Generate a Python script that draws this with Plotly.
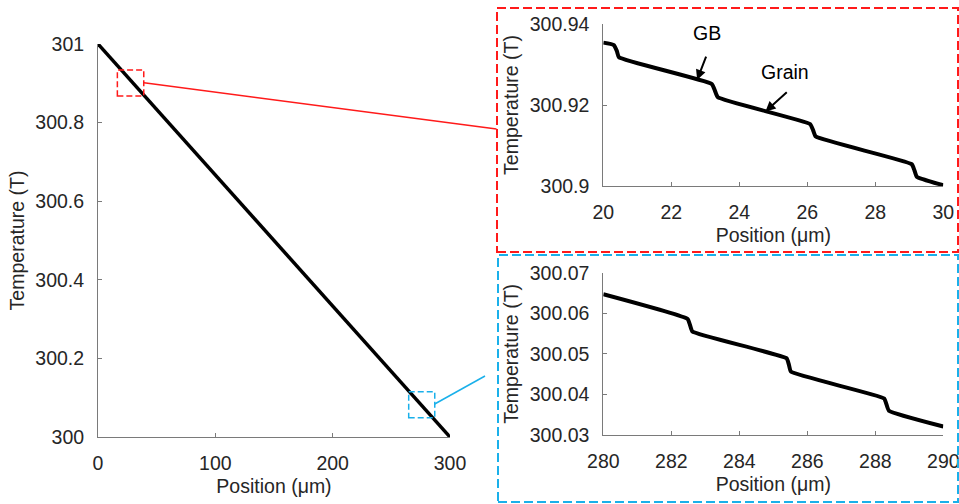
import plotly.graph_objects as go

# ---- data ----
main_x = [0, 300]
main_y = [301.0, 300.0]

zoom1_x = [20.0, 20.31, 20.40, 20.46, 23.19, 23.28, 23.37, 26.08, 26.17, 26.25, 29.07, 29.15, 29.22, 30.0]
zoom1_y = [300.9354, 300.9348, 300.9333, 300.9318, 300.9252, 300.9236, 300.9219, 300.9153, 300.9138, 300.9122,
           300.9054, 300.9039, 300.9023, 300.9002]

zoom2_x = [280.0, 282.48, 282.55, 282.62, 285.39, 285.46, 285.52, 288.26, 288.33, 288.40, 290.0]
zoom2_y = [300.0647, 300.0586, 300.0571, 300.0555, 300.0489, 300.0473, 300.0456, 300.0390, 300.0375, 300.0360,
           300.0321]

main_xticks = [0, 100, 200, 300]
main_yticks = [300.0, 300.2, 300.4, 300.6, 300.8, 301.0]
main_yticklabels = ["300", "300.2", "300.4", "300.6", "300.8", "301"]
z1_xticks = [20, 22, 24, 26, 28, 30]
z1_yticks = [300.90, 300.92, 300.94]
z1_yticklabels = ["300.9", "300.92", "300.94"]
z2_xticks = [280, 282, 284, 286, 288, 290]
z2_yticks = [300.03, 300.04, 300.05, 300.06, 300.07]
z2_yticklabels = ["300.03", "300.04", "300.05", "300.06", "300.07"]

W, H = 959, 504
def px(x):
    return x / W
def py(y):
    return 1 - y / H

FONT = "Arial, Liberation Sans, sans-serif"
TXT = "#262626"
AX = "#7a7a7a"
FS = 19.5

fig = go.Figure()
fig.add_trace(go.Scatter(x=main_x, y=main_y, mode="lines", line=dict(color="black", width=3.5),
                         cliponaxis=False, xaxis="x", yaxis="y", showlegend=False, hoverinfo="skip"))
fig.add_trace(go.Scatter(x=zoom1_x, y=zoom1_y, mode="lines", line=dict(color="black", width=4, shape="spline", smoothing=0.4),
                         cliponaxis=False, xaxis="x2", yaxis="y2", showlegend=False, hoverinfo="skip"))
fig.add_trace(go.Scatter(x=zoom2_x, y=zoom2_y, mode="lines", line=dict(color="black", width=4, shape="spline", smoothing=0.4),
                         cliponaxis=False, xaxis="x3", yaxis="y3", showlegend=False, hoverinfo="skip"))

def xa(domain, rng, ticks, title, anchor):
    return dict(domain=domain, range=rng, tickvals=ticks, anchor=anchor, automargin=False,
                showline=True, linecolor=AX, linewidth=1, ticks="inside", ticklen=4, tickcolor=AX,
                showgrid=False, zeroline=False, ticklabelstandoff=9, ticklabeloverflow="allow",
                tickfont=dict(family=FONT, size=FS, color=TXT),
                title=dict(text=title, font=dict(family=FONT, size=FS, color=TXT), standoff=5))

def ya(domain, rng, ticks, labels, title, anchor):
    return dict(domain=domain, range=rng, tickvals=ticks, ticktext=labels, anchor=anchor, automargin=False,
                showline=True, linecolor=AX, linewidth=1, ticks="inside", ticklen=4, tickcolor=AX,
                showgrid=False, zeroline=False, ticklabelstandoff=9, ticklabeloverflow="allow",
                tickfont=dict(family=FONT, size=FS, color=TXT),
                title=dict(text=title, font=dict(family=FONT, size=FS, color=TXT), standoff=5))

fig.update_layout(
    width=W, height=H, margin=dict(l=0, r=0, t=0, b=0, autoexpand=False),
    paper_bgcolor="white", plot_bgcolor="white",
    xaxis=xa([px(98), px(450)], [0, 300], main_xticks, "Position (μm)", "y"),
    yaxis=ya([py(437), py(44)], [300, 301], main_yticks, main_yticklabels, "Temperature (T)", "x"),
    xaxis2=xa([px(603.3), px(943.3)], [20, 30], z1_xticks, "Position (μm)", "y2"),
    yaxis2=ya([py(186), py(24)], [300.9, 300.94], z1_yticks, z1_yticklabels, "Temperature (T)", "x2"),
    xaxis3=xa([px(603.3), px(943.3)], [280, 290], z2_xticks, "Position (μm)", "y3"),
    yaxis3=ya([py(435), py(272.7)], [300.03, 300.07], z2_yticks, z2_yticklabels, "Temperature (T)", "x3"),
)

RED = "#ff1a1a"
BLUE = "#1ab0ea"
shapes = [
    # small zoom boxes on main plot
    dict(type="rect", xref="x", yref="y", x0=16.5, x1=39.0, y0=300.868, y1=300.934,
         line=dict(color=RED, width=1.5, dash="6px,3px")),
    dict(type="rect", xref="x", yref="y", x0=264.8, x1=287.0, y0=300.049, y1=300.115,
         line=dict(color=BLUE, width=1.5, dash="6px,3px")),
    # connectors
    dict(type="line", xref="paper", yref="paper", x0=px(144), y0=py(82.7), x1=px(496.5), y1=py(129),
         line=dict(color=RED, width=1.5)),
    dict(type="line", xref="paper", yref="paper", x0=px(434.7), y0=py(404), x1=px(485), y1=py(376),
         line=dict(color=BLUE, width=1.5)),
    # inset frames
    dict(type="rect", xref="paper", yref="paper", x0=px(497), x1=px(958), y0=py(252), y1=py(8),
         line=dict(color=RED, width=2, dash="9px,4px")),
    dict(type="rect", xref="paper", yref="paper", x0=px(498), x1=px(958), y0=py(502), y1=py(255),
         line=dict(color=BLUE, width=2, dash="9px,4px")),
]
fig.update_layout(shapes=shapes)

ann_font = dict(family=FONT, size=FS, color="black")
fig.add_annotation(x=23.04, y=300.9377, xref="x2", yref="y2", text="GB", showarrow=False, font=ann_font)
fig.add_annotation(x=22.76, y=300.9262, ax=23.04, ay=300.9323, xref="x2", yref="y2", axref="x2", ayref="y2",
                   text="", showarrow=True, arrowhead=2, arrowsize=1, arrowwidth=2, arrowcolor="black")
fig.add_annotation(x=25.34, y=300.9282, xref="x2", yref="y2", text="Grain", showarrow=False, font=ann_font)
fig.add_annotation(x=24.77, y=300.9184, ax=25.44, ay=300.9235, xref="x2", yref="y2", axref="x2", ayref="y2",
                   text="", showarrow=True, arrowhead=2, arrowsize=1, arrowwidth=2, arrowcolor="black")

fig.write_html("out.html", config=dict(displayModeBar=False, staticPlot=True),
               post_script="document.body.style.margin='0';document.body.style.overflow='hidden';")
